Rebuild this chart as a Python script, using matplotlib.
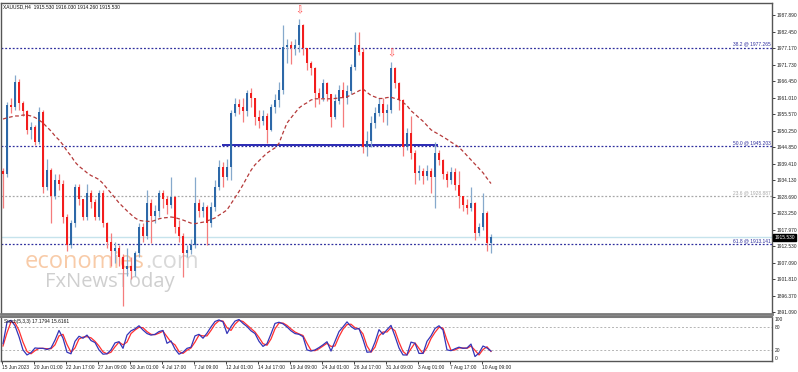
import numpy as np
import matplotlib
matplotlib.use("Agg")
from matplotlib import pyplot as plt
import matplotlib.transforms as mtransforms

# 8-hour candles (two H4 bars each)
opens = [1937, 1936, 1958.6, 1958, 1966, 1959.2, 1956.5, 1950.5, 1951.5, 1946.5,
         1956.3, 1932, 1937.4, 1929, 1934.2, 1933, 1922, 1913, 1920, 1931.9,
         1928, 1922, 1930, 1927, 1922.2, 1930, 1920.1, 1914, 1911, 1912,
         1909, 1905, 1906, 1904.5, 1910.4, 1918.8, 1916, 1926.7, 1922.5, 1924,
         1930, 1928, 1926, 1928.6, 1918.8, 1916, 1910.4, 1911.5, 1913, 1926.7,
         1924, 1925.5, 1920, 1925.4, 1932, 1938.4, 1935, 1938.5, 1956, 1959,
         1958, 1956.5, 1962.5, 1961, 1954.7, 1953.5, 1955, 1950.5, 1958, 1960.2,
         1963.5, 1977.5, 1978, 1977, 1978, 1984.6, 1977, 1972.3, 1970.5, 1962.5,
         1961, 1965.8, 1962, 1954.7, 1960, 1963.5, 1961, 1963, 1971, 1978.2,
         1976, 1945, 1947, 1952.7, 1956, 1959, 1956, 1957, 1970.5, 1965.8,
         1960.2, 1945, 1949.5, 1943, 1936.4, 1937, 1935.5, 1937, 1935, 1943,
         1940.5, 1936, 1934, 1936.8, 1932.5, 1929, 1926, 1925, 1926.5, 1917,
         1919, 1923.5, 1913.5]
highs = [1938, 1959.6, 1961, 1968.5, 1967, 1960, 1957, 1953, 1952, 1958,
         1957, 1941, 1938, 1936, 1936, 1934, 1923, 1921, 1933, 1933,
         1928, 1933, 1931, 1928, 1931, 1931, 1920.5, 1917, 1914, 1913,
         1910, 1912, 1909, 1911, 1920, 1920, 1931, 1928, 1926, 1931,
         1931, 1929, 1935, 1929, 1921, 1917, 1913, 1915, 1935, 1928,
         1927, 1926, 1927, 1934, 1940.5, 1940, 1941, 1957, 1961, 1960.5,
         1961, 1963.5, 1964, 1961, 1957, 1957, 1956, 1959, 1962, 1966,
         1984.6, 1980, 1979.5, 1980, 1986.5, 1985, 1977, 1973, 1971, 1964,
         1967, 1966, 1962, 1962, 1965, 1966, 1965, 1972, 1982.4, 1982.5,
         1977, 1950, 1955, 1958, 1961, 1961, 1959, 1972.5, 1971, 1966,
         1960.5, 1951, 1955, 1944, 1939, 1938, 1939, 1938, 1946.5, 1944,
         1941, 1937, 1938.5, 1938, 1937, 1929, 1928, 1932, 1927, 1920,
         1930, 1924, 1916.5]
lows = [1925, 1935, 1956, 1957, 1957, 1955, 1949, 1947.5, 1945.5, 1946,
        1930, 1931, 1920, 1928, 1931, 1920, 1911, 1912, 1919, 1926,
        1921, 1921, 1925, 1921, 1921, 1919, 1912, 1906, 1907, 1906,
        1893, 1903, 1902, 1903, 1909, 1914, 1915, 1913.6, 1920, 1922,
        1925, 1923, 1925, 1917, 1914, 1902.5, 1909, 1910, 1912, 1922,
        1922, 1913, 1919, 1924, 1931, 1932, 1934, 1934, 1955, 1955.5,
        1953, 1955, 1958, 1952, 1951, 1952, 1946.2, 1950, 1956, 1958,
        1962, 1972.3, 1972, 1975, 1976, 1975, 1970, 1968.5, 1958, 1959,
        1960, 1960, 1951.5, 1954, 1959, 1951.5, 1959, 1962, 1970, 1975,
        1943, 1942, 1945, 1951, 1955, 1953, 1952, 1956, 1964, 1957,
        1942, 1944, 1941, 1933, 1934, 1933, 1934, 1930, 1925, 1939,
        1934.5, 1932, 1933, 1931, 1925, 1924, 1923, 1924, 1914.7, 1916,
        1918, 1911, 1910.5]
closes = [1936, 1958.6, 1958, 1966, 1959.2, 1956.5, 1950.5, 1951.5, 1946.5, 1956.3,
          1932, 1937.4, 1929, 1934.2, 1933, 1922, 1913, 1920, 1931.9, 1928,
          1922, 1930, 1927, 1922.2, 1930, 1920.1, 1914, 1911, 1912, 1909,
          1905, 1906, 1904.5, 1910.4, 1918.8, 1916, 1926.7, 1922.5, 1924, 1930,
          1928, 1926, 1928.6, 1918.8, 1916, 1910.4, 1911.5, 1913, 1926.7, 1924,
          1925.5, 1920, 1925.4, 1932, 1938.4, 1935, 1938.5, 1956, 1959, 1958,
          1956.5, 1962.5, 1961, 1954.7, 1953.5, 1955, 1950.5, 1958, 1960.2, 1963.5,
          1977.5, 1978, 1977, 1978, 1984.6, 1977, 1972.3, 1970.5, 1962.5, 1961,
          1965.8, 1962, 1954.7, 1960, 1963.5, 1961, 1963, 1971, 1978.2, 1976,
          1945, 1947, 1952.7, 1956, 1959, 1956, 1957, 1970.5, 1965.8, 1960.2,
          1945, 1949.5, 1943, 1936.4, 1937, 1935.5, 1937, 1935, 1943, 1940.5,
          1936, 1934, 1936.8, 1932.5, 1929, 1926, 1925, 1926.5, 1917, 1919,
          1923.5, 1913.5, 1915.5]

# moving average (red dashed), same grid
ma_values = [1954.0, 1954.4, 1954.7, 1955.0, 1955.0, 1955.3, 1955.3, 1955.0, 1954.5, 1953.7,
             1952.7, 1951.4, 1950.1, 1948.5, 1947.2, 1945.6, 1943.6, 1942.0, 1940.0, 1938.6,
             1937.6, 1936.5, 1935.6, 1935.0, 1934.3, 1933.0, 1931.4, 1929.9, 1928.3, 1926.7,
             1925.4, 1924.1, 1922.9, 1921.8, 1921.0, 1920.8, 1920.7, 1920.6, 1921.0, 1921.5,
             1921.8, 1921.9, 1922.1, 1921.9, 1921.5, 1921.1, 1920.6, 1920.1, 1919.9, 1920.2,
             1920.4, 1920.8, 1921.3, 1921.8, 1922.7, 1923.5, 1924.4, 1926.4, 1928.4, 1930.4,
             1932.6, 1935.0, 1937.3, 1939.1, 1940.4, 1941.7, 1942.9, 1943.8, 1944.6, 1946.1,
             1949.5, 1952.7, 1954.4, 1956.0, 1957.6, 1958.6, 1959.3, 1960.2, 1960.6, 1960.6,
             1960.6, 1960.6, 1960.6, 1960.7, 1960.9, 1961.0, 1961.2, 1961.9, 1962.5, 1963.2,
             1963.8, 1962.7, 1961.7, 1961.2, 1960.7, 1960.7, 1961.0, 1961.1, 1960.7, 1960.3,
             1959.4, 1958.4, 1956.7, 1955.6, 1954.4, 1953.3, 1951.9, 1950.5, 1949.7, 1949.0,
             1948.2, 1947.4, 1946.5, 1945.7, 1944.8, 1943.5, 1942.1, 1940.7, 1939.3, 1937.9,
             1936.5, 1934.7, 1933.0]

# stochastic (5,3,3): %K blue, %D red
stoch_k = [36, 91, 96, 82, 54, 20, 7, 13, 25, 24, 24, 21, 25, 45, 70, 50, 14, 10, 42, 55,
           50, 58, 44, 39, 20, 9, 10, 20, 38, 41, 24, 58, 69, 74, 82, 71, 62, 58, 60, 67,
           70, 37, 43, 22, 9, 14, 24, 27, 56, 60, 50, 63, 79, 93, 97, 92, 62, 80, 94, 98,
           88, 80, 69, 62, 42, 29, 36, 61, 88, 91, 87, 79, 69, 62, 60, 54, 20, 17, 20, 26,
           33, 41, 17, 42, 67, 79, 92, 80, 73, 75, 47, 14, 15, 40, 72, 60, 72, 83, 55, 25,
           7, 7, 40, 37, 11, 11, 42, 56, 75, 82, 71, 20, 18, 23, 27, 24, 25, 35, 3, 12,
           30, 25, 17]
stoch_d = [30, 64, 92, 90, 70, 40, 16, 10, 18, 24, 24, 23, 23, 33, 56, 60, 34, 14, 25, 48,
           53, 54, 51, 42, 30, 15, 10, 14, 28, 40, 33, 40, 62, 71, 78, 77, 67, 60, 59, 63,
           68, 54, 40, 33, 16, 11, 19, 25, 40, 58, 56, 56, 70, 86, 95, 94, 77, 70, 86, 96,
           93, 84, 75, 66, 52, 36, 32, 48, 74, 89, 89, 83, 74, 66, 61, 57, 37, 19, 18, 23,
           30, 37, 29, 30, 54, 73, 85, 86, 77, 74, 61, 30, 14, 27, 56, 66, 66, 77, 69, 40,
           16, 7, 23, 38, 24, 11, 26, 49, 65, 78, 76, 45, 19, 20, 25, 25, 24, 30, 19, 7,
           21, 28, 16]

price_ticks = [1987.890, 1982.450, 1977.170, 1971.730, 1966.450, 1961.010, 1955.570,
               1950.250, 1944.850, 1939.410, 1934.130, 1928.690, 1923.250, 1917.970,
               1912.530, 1907.090, 1901.810, 1896.370, 1891.090]
date_labels = ["15 Jun 2023", "20 Jun 01:00", "22 Jun 17:00", "27 Jun 09:00",
               "30 Jun 01:00", "4 Jul 17:00", "7 Jul 09:00", "12 Jul 01:00",
               "14 Jul 17:00", "19 Jul 09:00", "24 Jul 01:00", "26 Jul 17:00",
               "31 Jul 09:00", "3 Aug 01:00", "7 Aug 17:00", "10 Aug 09:00"]
fib_levels = [1977.265, 1945.203, 1928.887, 1913.141]
fib_names = ["38.2", "50.0", "23.6", "61.8"]
fib_colors = ["#2e2e9e", "#2e2e9e", "#a8a8a8", "#2e2e9e"]
support_level = 1945.4
last_price = 1915.53
header = "XAUUSD,H4  1915.530 1916.030 1914.260 1915.530"
stoch_header = "Stoch(5,3,3) 17.1794 15.6161"

SMALL = ["Liberation Sans", "DejaVu Sans"]
FS = 3.5

W, H = 798, 372
fig = plt.figure(figsize=(W / 100, H / 100), dpi=100)
fig.patch.set_facecolor("white")

ax = fig.add_axes([1 / W, 58 / H, 771 / W, 311 / H])
ax2 = fig.add_axes([1 / W, 11 / H, 771 / W, 44 / H])

o = np.array(opens)
h = np.array(highs)
l = np.array(lows)
c = np.array(closes)
n = len(c)
x = np.arange(n) * 2 + 0.5   # position in H4 bars
up = c >= o
dn = ~up

# watermark (behind candles)
wm = ax.text(11.5, 1907.5, "economies", color="#f8cba8", fontsize=17, family="Open Sans",
             ha="left", va="center", zorder=0)
ax.annotate(".com", xy=(1, 0), xycoords=wm, color="#d9d9d9", fontsize=17,
            family="Open Sans", ha="left", va="bottom", zorder=0)
ax.text(21.5, 1900.8, "FxNewsToday", color="#cfcfcf", fontsize=14.5, family="Open Sans",
        ha="left", va="center", zorder=0)

# horizontal levels
ax.axhline(last_price, color="#c6e3ec", lw=1, zorder=1)
bt = mtransforms.blended_transform_factory(ax.transAxes, ax.transData)
for lvl, name, col in zip(fib_levels, fib_names, fib_colors):
    ax.axhline(lvl, color=col, lw=0.9, ls=(0, (1.5, 1.5)), zorder=1)
    ax.text(0.999, lvl + 0.4, f"{name} @ {lvl:.3f}", color=col, fontsize=FS,
            family=SMALL, ha="right", va="bottom", transform=bt)
ax.hlines(support_level, 110, 218, color="#2a2ab4", lw=1.4, zorder=2)

# candles
ax.vlines(x[up], l[up], h[up], color="#86a9cc", lw=0.9, zorder=3)
ax.vlines(x[dn], l[dn], h[dn], color="#f57c7c", lw=0.9, zorder=3)
body = np.maximum(np.abs(c - o), 0.3)
ax.bar(x[up], body[up], bottom=np.minimum(o, c)[up], width=1.3, color="#2d68a8", zorder=4)
ax.bar(x[dn], body[dn], bottom=np.minimum(o, c)[dn], width=1.3, color="#f21d1d", zorder=4)

# moving average
ax.plot(x, ma_values, color="#b53a3a", lw=0.9, ls=(0, (3, 2)), zorder=5)

# fractal arrows over the two peaks
for k in (74, 97):
    ax.text(x[k], h[k] + 1.4, "\u21e9", color="#ff4a4a", fontsize=7,
            ha="center", va="bottom", zorder=6)

ax.set_xlim(-0.5, 385)
ax.set_ylim(1890.5, 1991.8)
ax.yaxis.tick_right()
ax.set_yticks(price_ticks)
ax.set_yticklabels([f"{v:.3f}" for v in price_ticks], family=SMALL)
ax.tick_params(axis="y", labelsize=FS, length=2, width=0.6, pad=1.2, colors="#222222")
ax.set_xticks([])
for s in ax.spines.values():
    s.set_color("#555555")
    s.set_linewidth(1)
ax.spines["bottom"].set_color("#7a7a7a")
ax.spines["bottom"].set_linewidth(2)

# current price tag
ax.text(1.003, last_price, "1915.530", color="white", fontsize=FS, family=SMALL,
        ha="left", va="center", transform=bt,
        bbox=dict(boxstyle="square,pad=0.2", fc="black", ec="black"), clip_on=False)

fig.text(3 / W, 1 - 6.5 / H, header, fontsize=FS, family=SMALL, color="#111111",
         va="center", ha="left")

# stochastic panel
ax2.axhline(80, color="#b4b4b4", lw=0.7, ls=(0, (2, 2)))
ax2.axhline(20, color="#b4b4b4", lw=0.7, ls=(0, (2, 2)))
ax2.plot(x, stoch_d, color="#ff3030", lw=0.9)
ax2.plot(x, stoch_k, color="#3535b8", lw=0.9)
ax2.set_xlim(-0.5, 385)
ax2.set_ylim(-8.5, 104.5)
ax2.yaxis.tick_right()
ax2.set_yticks([100, 80, 20, 0])
ax2.set_yticklabels(["100", "80", "20", "0"], family=SMALL)
ax2.tick_params(axis="y", labelsize=FS, length=0, pad=2, colors="#222222")
ax2.set_xticks(np.arange(len(date_labels)) * 16)
ax2.set_xticklabels(date_labels, ha="left", family=SMALL)
ax2.tick_params(axis="x", labelsize=FS, length=2, width=0.6, pad=1, colors="#222222")
for s in ax2.spines.values():
    s.set_color("#555555")
    s.set_linewidth(1)
ax2.spines["top"].set_color("#7a7a7a")
ax2.spines["top"].set_linewidth(1.5)
ax2.text(0.004, 0.9, stoch_header, transform=ax2.transAxes, fontsize=FS, family=SMALL,
         color="#111111", ha="left", va="center")

fig.savefig("out.png", dpi=100)
